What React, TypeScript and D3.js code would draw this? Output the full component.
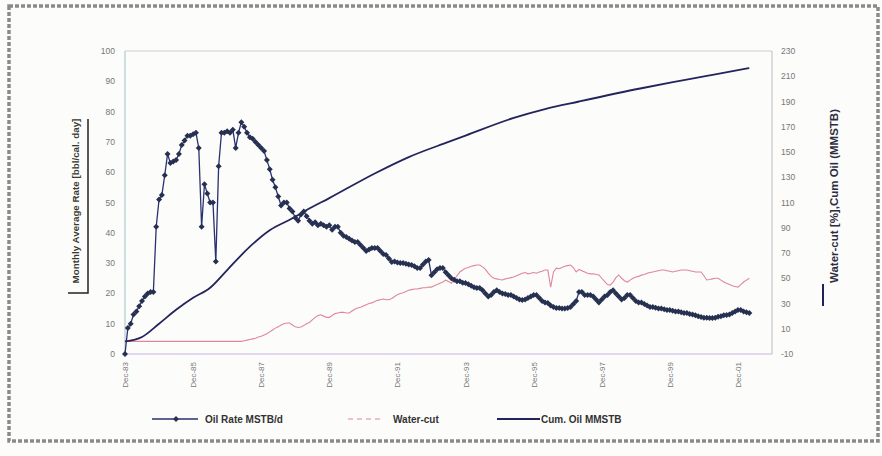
import React from 'react'
import * as d3 from 'd3'

// months counted from Dec-83
const tickMonths = [0, 24, 48, 72, 96, 120, 144, 168, 192, 216]
const tickLabels = ['Dec-83', 'Dec-85', 'Dec-87', 'Dec-89', 'Dec-91', 'Dec-93', 'Dec-95', 'Dec-97', 'Dec-99', 'Dec-01']
const leftTicks = [0, 10, 20, 30, 40, 50, 60, 70, 80, 90, 100]
const rightTicks = [-10, 10, 30, 50, 70, 90, 110, 130, 150, 170, 190, 210, 230]

// Oil Rate MSTB/d, one value a month
const oilRate = [
  0, 8.6, 10, 13, 14, 15.8, 17.5, 19, 20, 20.5, 20.5, 42, 51, 52.5, 59, 66, 63, 63.5, 64, 66,
  69, 70.5, 72, 72, 72.5, 73, 68, 42, 56, 53, 50, 50, 30.5, 62, 73, 73, 73.5, 73, 74, 68,
  73, 76.5, 75, 73, 71.5, 71, 70, 69, 68, 67, 64, 61, 57.5, 55, 52, 49, 50, 50, 48, 47,
  45, 44, 46, 47, 45.5, 44, 43, 43.5, 42.5, 43, 42.5, 42, 42.5, 41, 42, 42, 40, 39, 38.6, 38,
  37.5, 37, 37, 36, 35, 34, 34.5, 35, 35, 35, 34, 33, 32.7, 31.5, 30.4, 30.5, 30.2, 30, 30, 29.8,
  29.5, 29.4, 29, 28.4, 28.4, 29.5, 30.5, 31, 26, 27, 28, 28.4, 28.4, 27, 26, 25, 24.5, 24, 24, 23.5,
  23.4, 23, 22.5, 22, 21.8, 21.8, 21, 20, 19, 19.5, 20.5, 21, 20.5, 20, 19.8, 19.5, 19.5, 19, 18.5, 18,
  17.8, 18, 18.5, 19, 19.5, 19.5, 18.5, 17.5, 17, 16.8, 16, 15.5, 15.2, 15.2, 15, 15, 15.2, 15.5, 16.5, 17.5,
  20.5, 20.5, 19.5, 19.5, 19.5, 19, 18, 17, 18, 19, 19.5, 20.5, 21, 20, 19, 18, 18.5, 19.5, 19.5, 18.5,
  17.5, 17, 17, 16.5, 16, 15.5, 15.5, 15.3, 15, 15, 14.8, 14.5, 14.5, 14.3, 14, 14, 13.8, 13.5, 13.5, 13.2,
  13, 12.8, 12.5, 12.2, 12, 12, 11.9, 11.9, 12, 12.3, 12.5, 12.8, 12.9, 13, 13.5, 14, 14.5, 14.5, 14, 13.8,
  13.5,
]

// Water-cut %, one value a month
const waterCut = [
  0, 0, 0, 0, 0, 0, 0, 0, 0, 0, 0, 0, 0, 0, 0, 0, 0, 0, 0, 0,
  0, 0, 0, 0, 0, 0, 0, 0, 0, 0, 0, 0, 0, 0, 0, 0, 0, 0, 0, 0,
  0, 0, 0.5, 1, 1.5, 2, 2.5, 3.5, 4, 5, 6, 7.5, 9, 10.5, 11.5, 13, 14, 14.5, 14.5, 13,
  11.5, 11, 11.4, 12.5, 14, 15, 17, 19, 20.5, 21, 20, 19, 19, 20.5, 22, 22.5, 23, 23, 22.5, 22.5,
  24, 25.5, 26.5, 27, 28, 29, 30, 30.5, 31.5, 32.5, 33, 33.5, 33, 33, 34, 35.5, 37, 38, 38.5, 39.5,
  40.5, 41, 41.5, 41.5, 42, 42.5, 42.5, 43, 43, 44, 45, 46, 47, 48.5, 47.5, 46, 49, 52, 55, 56.5,
  58, 58.5, 59.5, 60, 60.5, 60.5, 59, 57, 54, 51.5, 50, 49.5, 49, 48.6, 49.5, 50, 50.5, 51, 52, 53,
  54, 54.5, 53.5, 54, 54.5, 54, 55, 55.5, 56.5, 56.5, 43, 55, 58, 57.5, 58.5, 59.5, 60, 60.5, 58.5, 55,
  57, 56, 55, 54, 53.5, 53.5, 53, 52.6, 50, 47.5, 45, 44.6, 47, 50.5, 52.6, 50, 48, 47, 48.5, 50,
  51, 51.5, 52.5, 53, 54, 54.5, 55, 55.5, 56, 56.5, 56.5, 56, 55.5, 55, 55.5, 56, 56.5, 56.5, 56.5, 56,
  55.5, 55, 55, 55, 52, 48.6, 49, 49.5, 50, 50, 48.5, 47, 46, 45, 44, 43.5, 43, 45, 47, 48.5,
  50,
]

// Cum. Oil MMSTB, read at these months
const cumMonths = [0, 6, 12, 18, 24, 30, 36, 44, 51, 59, 64, 72, 88, 100, 114, 120, 137, 148, 160, 182, 196, 208, 220]
const cumOil = [0, 3.5, 14, 25, 34.5, 42.5, 56.5, 75, 88, 97.5, 104, 113.5, 133, 146, 158, 163, 177, 184, 190, 200.5, 206.5, 211.5, 216.5]

const W = 882
const H = 456
const font = 'Liberation Sans, Arial, sans-serif'

const App = () => {
  const x = d3.scaleLinear().domain([0, 228]).range([125, 772])
  const yL = d3.scaleLinear().domain([0, 100]).range([354, 51])
  const yR = d3.scaleLinear().domain([-10, 230]).range([354, 51])

  const rateLine = d3.line<number>().x((d, i) => x(i)).y((d) => yL(d))
  const wcLine = d3.line<number>().x((d, i) => x(i)).y((d) => yR(d))
  const cumLine = d3.line<number>().x((d, i) => x(cumMonths[i])).y((d) => yR(d)).curve(d3.curveMonotoneX)
  const diamond = d3.symbol(d3.symbolSquare, 18)() as string

  return (
    <svg width={W} height={H} style={{ position: 'absolute', left: 0, top: 0, background: '#fcfcfb' }} fontFamily={font}>
      <rect x={9} y={6} width={869} height={435} fill="none" stroke="#8a8a8a" strokeWidth={3.5} strokeDasharray="4 2" />

      {/* plot frame */}
      <line x1={125} x2={772} y1={51} y2={51} stroke="#cfcfcf" />
      <line x1={772} x2={772} y1={51} y2={354} stroke="#bdbdbd" />
      <line x1={125} x2={125} y1={51} y2={354} stroke="#9fc3c8" />
      <line x1={125} x2={772} y1={354} y2={354} stroke="#c9b3e0" />

      {leftTicks.map((t) => (
        <text key={t} x={115} y={yL(t) + 3} fontSize={8.5} fill="#777" textAnchor="end">{t}</text>
      ))}
      {rightTicks.map((t) => (
        <text key={t} x={781} y={yR(t) + 3} fontSize={8.5} fill="#777">{t}</text>
      ))}
      {tickMonths.map((m, i) => (
        <text key={m} transform={`translate(${x(m) + 3},362) rotate(-90)`} fontSize={8} fill="#777" textAnchor="end">{tickLabels[i]}</text>
      ))}

      {/* axis titles */}
      <text transform="translate(79,201) rotate(-90)" fontSize={9.8} fontWeight="bold" fill="#3a3a30" textAnchor="middle">Monthly Average Rate [bbl/cal. day]</text>
      <path d="M88,119V293H68" fill="none" stroke="#222" strokeWidth={1.5} />
      <text transform="translate(838,196) rotate(-90)" fontSize={11.5} fontWeight="bold" fill="#2d2d40" textAnchor="middle">Water-cut [%],Cum Oil  (MMSTB)</text>
      <line x1={823} x2={823} y1={284} y2={306} stroke="#22225a" strokeWidth={2} />

      {/* series */}
      <path d={wcLine(waterCut) as string} fill="none" stroke="#e0869a" strokeWidth={1.1} />
      <path d={cumLine(cumOil) as string} fill="none" stroke="#23245c" strokeWidth={1.8} />
      <path d={rateLine(oilRate) as string} fill="none" stroke="#2b3170" strokeWidth={1.3} />
      {oilRate.map((v, i) => (
        <path key={i} d={diamond} transform={`translate(${x(i)},${yL(v)}) rotate(45)`} fill="#263050" />
      ))}

      {/* legend */}
      <line x1={152} x2={198} y1={419} y2={419} stroke="#2b3170" strokeWidth={1.3} />
      <path d={diamond} transform="translate(176,419) rotate(45)" fill="#263050" />
      <text x={205} y={422.5} fontSize={10} fontWeight="bold" fill="#333">Oil Rate MSTB/d</text>
      <line x1={348} x2={383} y1={419} y2={419} stroke="#e0869a" strokeWidth={1.1} strokeDasharray="5 4" />
      <text x={393} y={422.5} fontSize={10} fontWeight="bold" fill="#333">Water-cut</text>
      <line x1={497} x2={540} y1={419} y2={419} stroke="#23245c" strokeWidth={1.8} />
      <text x={541} y={422.5} fontSize={10} fontWeight="bold" fill="#333">Cum. Oil MMSTB</text>
    </svg>
  )
}

export default App
